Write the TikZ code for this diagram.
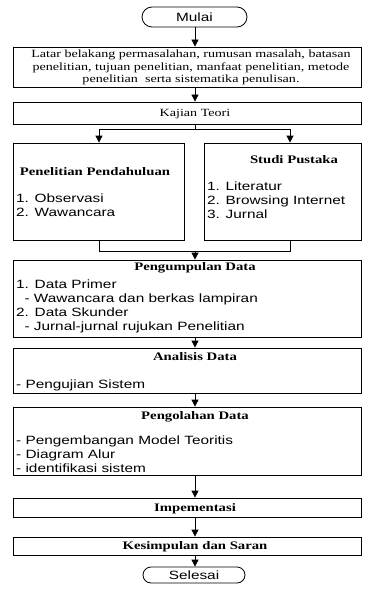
\documentclass[tikz,border=0pt]{standalone}
\usepackage{graphicx}
\usepackage{fontspec}
\setmainfont{Liberation Serif}
\setsansfont{Liberation Sans}
\usetikzlibrary{arrows.meta,shapes.misc}

% horizontally widened text, as set in the flowchart
\newcommand{\wide}[1]{\scalebox{1.28}[1]{#1}}
\newcommand{\serif}{\rmfamily\fontsize{11}{12.5}\selectfont}
\newcommand{\sans}{\sffamily\fontsize{12}{14.2}\selectfont}

\tikzset{
  box/.style={draw, rectangle, line width=0.8pt, inner sep=0pt},
  term/.style={draw, rounded rectangle, line width=0.8pt, inner sep=0pt},
  line/.style={line width=0.8pt},
  arr/.style={line width=0.8pt, -{Triangle[width=7pt,length=7pt]}},
  title/.style={anchor=base, inner sep=0pt, font=\rmfamily\fontsize{11.5}{13}\selectfont\bfseries},
  items/.style={anchor=north west, inner sep=0pt, font=\sans},
}

\begin{document}
\begin{tikzpicture}[x=1pt,y=-1pt]
\useasboundingbox (0,0) rectangle (365,591);

% boxes
\node[term, minimum width=105pt, minimum height=20pt] (start) at (194.5,17) {};
\node[font=\sans, inner sep=0pt] (starttxt) at (194.5,17) {\wide{Mulai}};

\node[box, minimum width=348pt, minimum height=40pt] (latar) at (187,67) {};
\node[font=\serif, inner sep=0pt] (latartxt) at (191,68) {\wide{\begin{tabular}{@{}c@{}}
Latar belakang permasalahan, rumusan masalah, batasan\\
penelitian, tujuan penelitian, manfaat penelitian, metode\\
penelitian\ \ serta sistematika penulisan.
\end{tabular}}};

\node[box, minimum width=348pt, minimum height=22pt] (kajian) at (187,113) {};
\node[title, font=\serif] (kajiantxt) at (195,116.7) {\wide{Kajian Teori}};

\node[box, minimum width=171pt, minimum height=97pt] (pend) at (98.5,191.5) {};
\node[title] (pendtxt) at (95,175.7) {\wide{Penelitian Pendahuluan}};
\node[items] (penditems) at (16,192.4) {\wide{\begin{tabular}{@{}l@{}}
1. Observasi\\
2. Wawancara
\end{tabular}}};

\node[box, minimum width=157pt, minimum height=97pt] (pustaka) at (282.5,191.5) {};
\node[title] (pustakatxt) at (294,163.7) {\wide{Studi Pustaka}};
\node[items] (pustakaitems) at (207,180.4) {\wide{\begin{tabular}{@{}l@{}}
1. Literatur\\
2. Browsing Internet\\
3. Jurnal
\end{tabular}}};

\node[box, minimum width=348pt, minimum height=77pt] (kumpul) at (187,298.5) {};
\node[title] (kumpultxt) at (195,270.7) {\wide{Pengumpulan Data}};
\node[items] (kumpulitems) at (16,278) {\wide{\begin{tabular}{@{}l@{}}
1. Data Primer\\
\hspace{6.5pt}- Wawancara dan berkas lampiran\\
2. Data Skunder\\
\hspace{6.5pt}- Jurnal-jurnal rujukan Penelitian
\end{tabular}}};

\node[box, minimum width=348pt, minimum height=45pt] (analisis) at (187,370.5) {};
\node[title] (analisistxt) at (195,360.7) {\wide{Analisis Data}};
\node[items] (analisisitems) at (16,378.4) {\wide{\begin{tabular}{@{}l@{}}
- Pengujian Sistem
\end{tabular}}};

\node[box, minimum width=348pt, minimum height=68pt] (olah) at (187,441) {};
\node[title] (olahtxt) at (195,419.7) {\wide{Pengolahan Data}};
\node[items] (olahitems) at (16,434.4) {\wide{\begin{tabular}{@{}l@{}}
- Pengembangan Model Teoritis\\
- Diagram Alur\\
- identifikasi sistem
\end{tabular}}};

\node[box, minimum width=348pt, minimum height=19pt] (impl) at (187,507.5) {};
\node[title] (impltxt) at (195,511.2) {\wide{Impementasi}};

\node[box, minimum width=348pt, minimum height=18pt] (simpul) at (187,546) {};
\node[title] (simpultxt) at (195,549.7) {\wide{Kesimpulan dan Saran}};

\node[term, minimum width=102pt, minimum height=16pt] (stop) at (194,575) {};
\node[font=\sans, inner sep=0pt] (stoptxt) at (194,575) {\wide{Selesai}};

% connectors
\coordinate (spine) at (195,0);
\coordinate (la) at (99,129);
\coordinate (ra) at (290,129);
\coordinate (lm) at (99,251);
\coordinate (rm) at (290,251);

\draw[arr] (spine |- start.south) -- (spine |- latar.north);
\draw[arr] (spine |- latar.south) -- (spine |- kajian.north);
\draw[line] (spine |- kajian.south) -- (spine |- la);
\draw[line] (la) -- (ra);
\draw[arr] (la) -- (la |- pend.north);
\draw[arr] (ra) -- (ra |- pustaka.north);
\draw[line] (la |- pend.south) -- (lm) -- (rm) -- (ra |- pustaka.south);
\draw[arr] (spine |- lm) -- (spine |- kumpul.north);
\draw[arr] (spine |- kumpul.south) -- (spine |- analisis.north);
\draw[arr] (spine |- analisis.south) -- (spine |- olah.north);
\draw[arr] (spine |- olah.south) -- (spine |- impl.north);
\draw[arr] (spine |- impl.south) -- (spine |- simpul.north);
\draw[arr] (spine |- simpul.south) -- (spine |- stop.north);
\end{tikzpicture}
\end{document}
